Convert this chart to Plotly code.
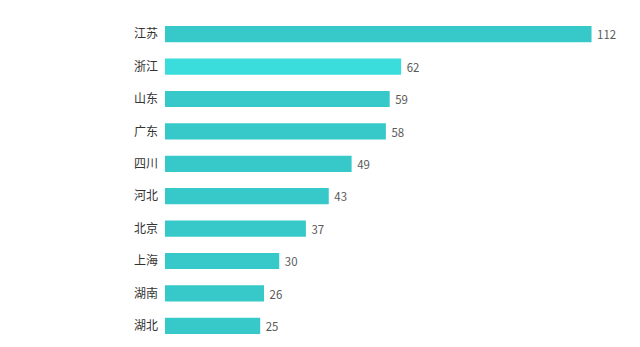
import plotly.graph_objects as go

provinces = ["江苏", "浙江", "山东", "广东", "四川", "河北", "北京", "上海", "湖南", "湖北"]
counts = [112, 62, 59, 58, 49, 43, 37, 30, 26, 25]

base_color = "#37C9C9"
highlight_color = "#3BDCDC"
colors = [highlight_color if p == "浙江" else base_color for p in provinces]

fig = go.Figure(
    go.Bar(
        x=counts,
        y=provinces,
        orientation="h",
        marker=dict(color=colors, line=dict(width=0)),
        width=0.5,
        text=[str(v) for v in counts],
        texttemplate=" %{text}",
        textposition="outside",
        textfont=dict(size=12, color="#595959", family="Noto Sans CJK SC"),
        cliponaxis=False,
    )
)

fig.update_layout(
    width=640,
    height=347,
    margin=dict(l=165, r=18, t=18, b=5),
    paper_bgcolor="white",
    plot_bgcolor="white",
    showlegend=False,
    font=dict(family="Noto Sans CJK SC", size=12, color="#333333"),
    xaxis=dict(range=[0, 120], visible=False, showgrid=False, zeroline=False),
    yaxis=dict(
        autorange="reversed",
        showgrid=False,
        zeroline=False,
        showline=False,
        ticks="",
        ticklabelstandoff=6,
        tickfont=dict(size=12, color="#333333"),
    ),
)

fig.write_html("out.html")
